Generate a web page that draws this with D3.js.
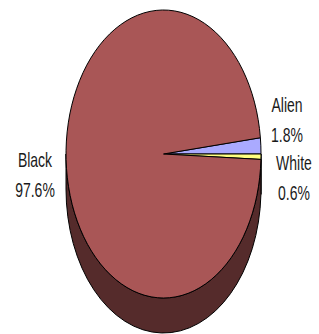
<!DOCTYPE html>
<html>
<head>
<meta charset="utf-8">
<script src="https://cdn.jsdelivr.net/npm/d3@7"></script>
<style>
  body { margin: 0; background: #fff; }
  text { font-family: "Liberation Sans", Arial, sans-serif; fill: #1a1a1a; }
</style>
</head>
<body>
<svg id="chart" width="319" height="334"></svg>
<script>
// data
const categories = ["Alien", "White", "Black"];
const values = [1.8, 0.6, 97.6];
const valueLabels = ["1.8%", "0.6%", "97.6%"];

const topColors = ["#aaaaff", "#ffff80", "#a95656"];
const sideColors = ["#55557f", "#80803f", "#552b2b"];

// label anchors (centre x, baseline of first line)
const labelPos = [[287, 112], [294, 170], [35, 167]];

const width = 319, height = 334;
const cx = 163.5, cy = 154;   // centre of top face
const rx = 97.5, ry = 144;    // ellipse radii
const depth = 35;             // thickness of the pie
const k = ry / rx;

const svg = d3.select("#chart");

const total = d3.sum(values);
const alienAngle = 2 * Math.PI * values[0] / total;

// first slice ends exactly at 3 o'clock
const pie = d3.pie()
    .sort(null)
    .value(d => d)
    .startAngle(Math.PI / 2 - alienAngle)
    .endAngle(Math.PI / 2 - alienAngle + 2 * Math.PI);

const slices = pie(values);

// everything drawn in circle space, then squashed into an ellipse
const g = svg.append("g")
    .attr("transform", `translate(${cx},${cy}) scale(1,${k})`);

// outer side wall (only the front half is visible)
const d2 = depth / k;
slices.forEach((s, i) => {
    let a0 = Math.max(s.startAngle - Math.PI / 2, 0);
    let a1 = Math.min(s.endAngle - Math.PI / 2, Math.PI);
    if (a0 >= a1) return;
    const p = d3.path();
    p.arc(0, 0, rx, a0, a1);
    p.arc(0, d2, rx, a1, a0, true);
    p.closePath();
    g.append("path")
        .attr("d", p.toString())
        .attr("fill", sideColors[i])
        .attr("stroke", "#000")
        .attr("stroke-width", 1)
        .attr("vector-effect", "non-scaling-stroke");
});

// top faces
const arc = d3.arc().innerRadius(0).outerRadius(rx);
g.selectAll("path.top")
    .data(slices)
    .join("path")
    .attr("class", "top")
    .attr("d", arc)
    .attr("fill", (d, i) => topColors[i])
    .attr("stroke", "#000")
    .attr("stroke-width", 1)
    .attr("stroke-linejoin", "round")
    .attr("vector-effect", "non-scaling-stroke");

// labels (narrow type, squeezed horizontally)
const labels = svg.append("g");
categories.forEach((c, i) => {
    const [x, y] = labelPos[i];
    const t = labels.append("g").attr("transform", `translate(${x},${y}) scale(0.7,1)`);
    t.append("text")
        .attr("text-anchor", "middle")
        .attr("font-size", 20)
        .text(c);
    t.append("text")
        .attr("text-anchor", "middle")
        .attr("font-size", 20)
        .attr("y", 30)
        .text(valueLabels[i]);
});
</script>
</body>
</html>
